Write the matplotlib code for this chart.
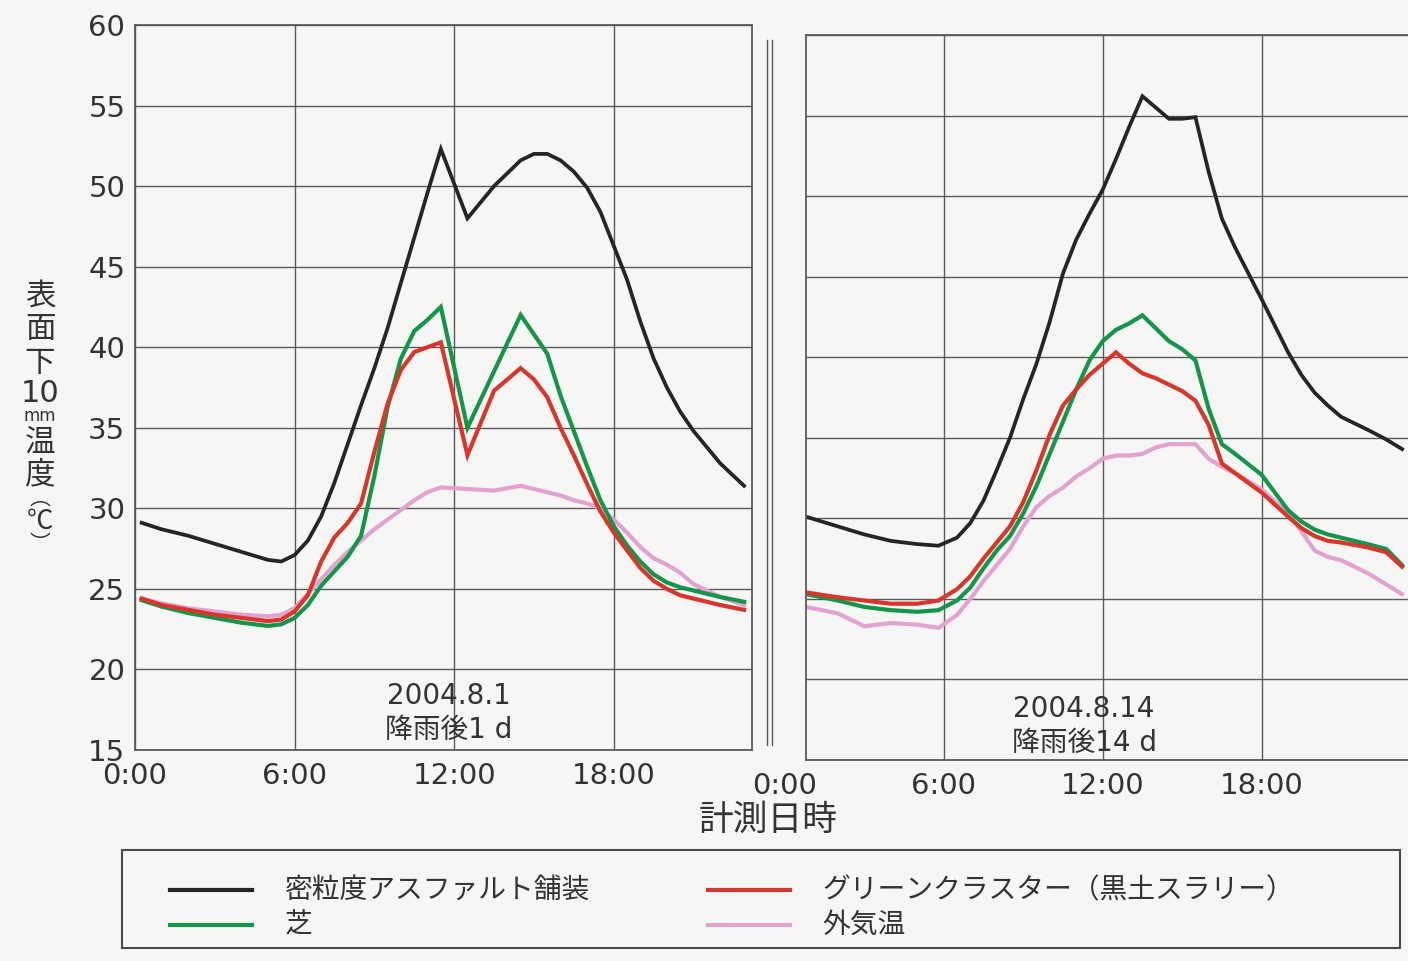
import matplotlib
matplotlib.use('Agg')
import matplotlib.pyplot as plt
from matplotlib.lines import Line2D
from matplotlib.patches import Rectangle
from matplotlib.transforms import ScaledTranslation

plt.rcParams['font.family'] = ['DejaVu Sans', 'Noto Sans CJK JP']

# ---- data: 2004.8.1 (1 day after rain) ----
hours_0801 = [0.25, 1, 2, 3, 4, 5, 5.5, 6, 6.5, 7, 7.5, 8, 8.5, 9, 9.5, 10, 10.5, 11, 11.5,
              12.5, 13.5, 14.5, 15, 15.5, 16, 16.5, 17, 17.5, 18, 18.5, 19, 19.5, 20, 20.5,
              21, 22, 22.9]
asphalt_0801 = [29.1, 28.7, 28.3, 27.8, 27.3, 26.8, 26.7, 27.1, 28.0, 29.5, 31.6, 34.0, 36.4,
                38.7, 41.2, 44.0, 46.8, 49.6, 52.3, 48.0, 50.0, 51.6, 52.0, 52.0, 51.6, 50.9,
                49.9, 48.4, 46.3, 44.2, 41.6, 39.3, 37.5, 36.0, 34.8, 32.8, 31.4]
turf_0801 = [24.3, 23.9, 23.5, 23.2, 22.9, 22.7, 22.8, 23.2, 24.0, 25.2, 26.1, 27.0, 28.3,
             32.0, 36.3, 39.3, 41.0, 41.7, 42.5, 35.0, 38.5, 42.0, 40.8, 39.6, 37.0, 34.8,
             32.6, 30.5, 28.9, 27.7, 26.7, 25.9, 25.4, 25.1, 24.9, 24.5, 24.2]
cluster_0801 = [24.4, 24.0, 23.7, 23.4, 23.2, 23.0, 23.1, 23.6, 24.6, 26.7, 28.2, 29.1, 30.3,
                33.5, 36.5, 38.6, 39.7, 40.0, 40.3, 33.3, 37.3, 38.7, 38.0, 36.9, 35.0, 33.3,
                31.5, 29.8, 28.5, 27.4, 26.3, 25.5, 25.0, 24.6, 24.4, 24.0, 23.7]
air_0801 = [24.4, 24.1, 23.8, 23.6, 23.4, 23.3, 23.4, 23.8, 24.7, 25.6, 26.5, 27.3, 28.0,
            28.7, 29.3, 29.9, 30.5, 31.0, 31.3, 31.2, 31.1, 31.4, 31.2, 31.0, 30.8, 30.5,
            30.3, 30.0, 29.3, 28.5, 27.6, 26.9, 26.5, 26.0, 25.3, 24.5, 24.0]

# ---- data: 2004.8.14 (14 days after rain) ----
hours_0814 = [0.8, 2, 3, 4, 5, 5.8, 6.5, 7, 7.5, 8, 8.5, 9, 9.5, 10, 10.5, 11, 11.5, 12,
              12.5, 13, 13.5, 14, 14.5, 15, 15.5, 16, 16.5, 17, 18, 19, 19.5, 20, 20.5, 21,
              22, 22.7, 23.3]
asphalt_0814 = [30.1, 29.5, 29.0, 28.6, 28.4, 28.3, 28.8, 29.7, 31.1, 33.0, 35.0, 37.4, 39.6,
                42.2, 45.2, 47.3, 48.9, 50.4, 52.3, 54.3, 56.2, 55.5, 54.8, 54.8, 54.9, 51.5,
                48.6, 46.8, 43.6, 40.3, 38.9, 37.8, 37.0, 36.3, 35.5, 34.9, 34.3]
turf_0814 = [25.3, 24.9, 24.5, 24.3, 24.2, 24.3, 24.9, 25.7, 26.9, 28.0, 28.9, 30.3, 32.0,
             34.0, 36.0, 38.0, 39.8, 41.0, 41.7, 42.1, 42.6, 41.8, 41.0, 40.5, 39.8, 36.8,
             34.6, 34.0, 32.7, 30.5, 29.8, 29.3, 29.0, 28.8, 28.4, 28.1, 27.1]
cluster_0814 = [25.4, 25.1, 24.9, 24.7, 24.7, 24.9, 25.6, 26.4, 27.5, 28.5, 29.5, 31.0, 33.0,
                35.2, 37.0, 38.0, 38.9, 39.6, 40.3, 39.6, 39.0, 38.7, 38.3, 37.9, 37.3, 35.8,
                33.4, 32.8, 31.6, 30.1, 29.4, 28.9, 28.6, 28.5, 28.2, 27.9, 27.0]
air_0814 = [24.5, 24.1, 23.3, 23.5, 23.4, 23.2, 24.0, 25.0, 26.1, 27.1, 28.1, 29.5, 30.7,
            31.4, 31.9, 32.6, 33.1, 33.7, 33.9, 33.9, 34.0, 34.4, 34.6, 34.6, 34.6, 33.7,
            33.2, 32.8, 31.8, 30.3, 29.2, 28.0, 27.6, 27.4, 26.6, 25.9, 25.3]

series_names = ['密粒度アスファルト舗装', '芝', 'グリーンクラスター（黒土スラリー）', '外気温']
series_colors = ['#252525', '#14964a', '#d8362b', '#e3a2cf']
tick_hours = [0, 6, 12, 18]
tick_labels = ['0:00', '6:00', '12:00', '18:00']

BG = '#f6f6f4'
GRID = '#5a5a5a'
TXT = '#333333'
W, H = 1408, 961


def fx(px):
    return px / W


def fy(py):
    return 1 - py / H


fig = plt.figure(figsize=(W / 100, H / 100), dpi=100, facecolor=BG)
axL = fig.add_axes([fx(135), fy(750), fx(752) - fx(135), fy(25) - fy(750)])
axR = fig.add_axes([fx(806), fy(760), fx(1410) - fx(806), fy(35) - fy(760)])

panels = [
    (axL, hours_0801, [asphalt_0801, turf_0801, cluster_0801, air_0801], (0, 23.2)),
    (axR, hours_0814, [asphalt_0814, turf_0814, cluster_0814, air_0814], (0.8, 23.6)),
]

PAD = 9
for ax, hrs, vals, xl in panels:
    ax.set_facecolor(BG)
    ax.set_xlim(*xl)
    ax.set_ylim(15, 60)
    ax.set_yticks(range(15, 61, 5))
    ax.grid(True, color=GRID, lw=1.0)
    ax.set_axisbelow(True)
    ax.tick_params(length=0, labelsize=21, labelcolor=TXT)
    ax.tick_params(axis='x', pad=PAD)
    ax.tick_params(axis='y', pad=7)
    for s in ax.spines.values():
        s.set_color(GRID)
        s.set_linewidth(1.3)
    # draw order: air, turf, cluster, asphalt
    for i in [3, 1, 2, 0]:
        lw = 2.7 if i == 0 else 3.0
        ax.plot(hrs, vals[i], color=series_colors[i], lw=lw, solid_joinstyle='miter')

axL.set_xticks(tick_hours)
axL.set_xticklabels(tick_labels)
axR.set_xticks(tick_hours[1:])
axR.set_xticklabels(tick_labels[1:])
axR.tick_params(labelleft=False)
axR.spines['right'].set_visible(False)
# the 0:00 label of the second day sits just left of the panel
axR.text(0, 0, tick_labels[0], transform=axR.get_xaxis_transform()
         + ScaledTranslation(0, -PAD / 72, fig.dpi_scale_trans),
         ha='center', va='top', fontsize=21, color=TXT, clip_on=False)

axL.text(11.8, 17.3, '2004.8.1\n降雨後1 d', ha='center', va='center', fontsize=20,
         color=TXT, linespacing=1.3)
axR.text(11.3, 17.1, '2004.8.14\n降雨後14 d', ha='center', va='center', fontsize=20,
         color=TXT, linespacing=1.3)

# break lines between the two days
for px in (767, 772):
    fig.add_artist(Line2D([fx(px), fx(px)], [fy(745), fy(40)], color=GRID, lw=1.0))

# x label
fig.text(fx(768), fy(820), '計測日時', ha='center', va='center', fontsize=25, color=TXT)

# stacked y label: (text, pixel y, size)
ylab = [('表', 296, 22), ('面', 330, 22), ('下', 363, 22), ('10', 393, 22),
        ('mm', 416, 12), ('温', 443, 22), ('度', 475, 22), ('︵', 499, 15),
        ('℃', 521, 19), ('︶', 544, 15)]
for s, py, fs in ylab:
    fam = ['Noto Sans CJK JP'] if s in ('︵', '℃', '︶') else None
    fig.text(fx(40), fy(py), s, ha='center', va='center', fontsize=fs, color=TXT,
             family=fam)

# legend box
fig.add_artist(Rectangle((fx(122), fy(948)), fx(1400) - fx(122), fy(850) - fy(948),
                         transform=fig.transFigure, fill=False, ec='#4a4a4a', lw=1.5))
leg_pos = [(170, 285, 890), (170, 285, 925), (708, 822, 890), (708, 822, 925)]
for (hx, tx, py), name, col in zip(leg_pos, series_names, series_colors):
    fig.add_artist(Line2D([fx(hx), fx(hx + 82)], [fy(py), fy(py)], color=col, lw=3.0))
    fig.text(fx(tx), fy(py), name, ha='left', va='center', fontsize=20, color=TXT)

fig.savefig('out.png', dpi=100, facecolor=BG)
